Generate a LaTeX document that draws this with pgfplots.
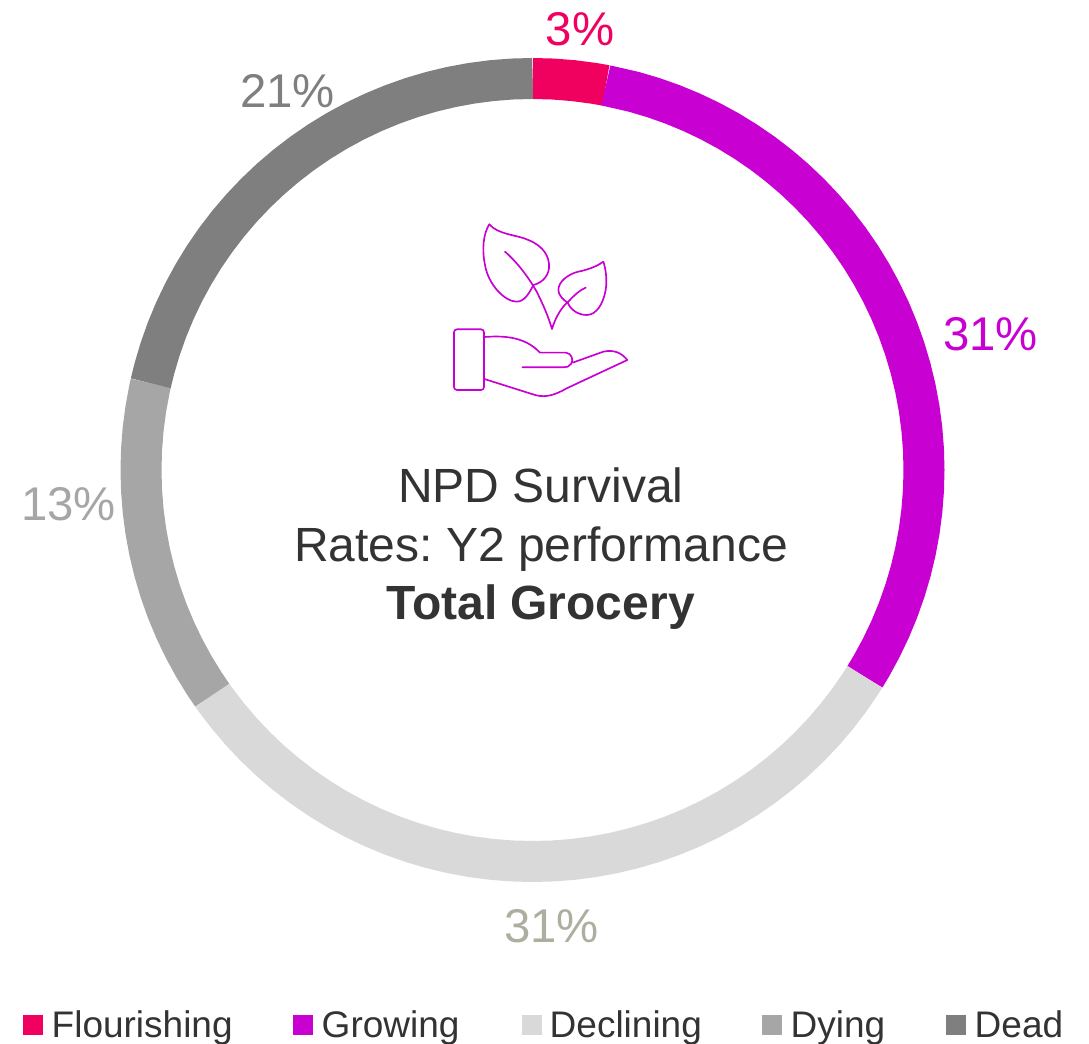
\documentclass[border=0pt]{standalone}
\usepackage{pgfplots}
\pgfplotsset{compat=1.18}
\usepackage{fontspec}
\setmainfont{Liberation Sans}
\frenchspacing
\definecolor{flourishing}{HTML}{F0005F}
\definecolor{growing}{HTML}{C800D2}
\definecolor{declining}{HTML}{D9D9D9}
\definecolor{dying}{HTML}{A6A6A6}
\definecolor{dead}{HTML}{7F7F7F}
\definecolor{ink}{HTML}{333333}
\definecolor{bottomlabel}{HTML}{AEAEA0}
\newcommand{\pct}{\fontsize{35.5}{36}\selectfont}
\newcommand{\centretext}{\fontsize{36}{40}\selectfont}
\newcommand{\legendtext}{\fontsize{27.75}{30}\selectfont}
\begin{document}
\begin{tikzpicture}
\path[use as bounding box,clip] (0,0) rectangle (816.75pt,782.25pt);
\begin{axis}[
  at={(0,0)}, anchor=south west,
  x=0.75pt, y=0.75pt,
  xmin=-532.5, xmax=556.5, ymin=-573, ymax=470,
  hide axis, clip=false,
  ring/.style={data cs=polar, no marks, line width=30.75pt, line cap=butt, line join=round},
  key/.style={only marks, mark=square*, mark size=7.1pt, mark options={draw=none}},
  every node/.append style={inner sep=0pt, outer sep=0pt},
]
% Ring segments: (polar angle in degrees, mid radius), running clockwise from the top.
% Shares: Flourishing 3.0, Growing 30.85, Declining 31.4, Dying 13.3, Dead 21.45 percent.
\addplot[ring, color=flourishing] coordinates {(90,391.5)(87,391.5)(84,391.5)(81,391.5)(79.2,391.5)};
\addplot[ring, color=growing] coordinates {(79.2,391.5)(75,391.5)(72,391.5)(69,391.5)(66,391.5)(63,391.5)(60,391.5)(57,391.5)(54,391.5)(51,391.5)(48,391.5)(45,391.5)(42,391.5)(39,391.5)(36,391.5)(33,391.5)(30,391.5)(27,391.5)(24,391.5)(21,391.5)(18,391.5)(15,391.5)(12,391.5)(9,391.5)(6,391.5)(3,391.5)(0,391.5)(-3,391.5)(-6,391.5)(-9,391.5)(-12,391.5)(-15,391.5)(-18,391.5)(-21,391.5)(-24,391.5)(-27,391.5)(-30,391.5)(-31.9,391.5)};
\addplot[ring, color=declining] coordinates {(-31.9,391.5)(-33,391.5)(-36,391.5)(-39,391.5)(-42,391.5)(-45,391.5)(-48,391.5)(-51,391.5)(-54,391.5)(-57,391.5)(-60,391.5)(-63,391.5)(-66,391.5)(-69,391.5)(-72,391.5)(-75,391.5)(-78,391.5)(-81,391.5)(-84,391.5)(-87,391.5)(-90,391.5)(-93,391.5)(-96,391.5)(-99,391.5)(-102,391.5)(-105,391.5)(-108,391.5)(-111,391.5)(-114,391.5)(-117,391.5)(-120,391.5)(-123,391.5)(-126,391.5)(-129,391.5)(-132,391.5)(-135,391.5)(-138,391.5)(-141,391.5)(-144,391.5)(-144.9,391.5)};
\addplot[ring, color=dying] coordinates {(-144.9,391.5)(-147,391.5)(-150,391.5)(-153,391.5)(-156,391.5)(-159,391.5)(-162,391.5)(-165,391.5)(-168,391.5)(-171,391.5)(-174,391.5)(-177,391.5)(-180,391.5)(-183,391.5)(-186,391.5)(-189,391.5)(-192,391.5)(-192.8,391.5)};
\addplot[ring, color=dead] coordinates {(-192.8,391.5)(-195,391.5)(-198,391.5)(-201,391.5)(-204,391.5)(-207,391.5)(-210,391.5)(-213,391.5)(-216,391.5)(-219,391.5)(-222,391.5)(-225,391.5)(-228,391.5)(-231,391.5)(-234,391.5)(-237,391.5)(-240,391.5)(-243,391.5)(-246,391.5)(-249,391.5)(-252,391.5)(-255,391.5)(-258,391.5)(-261,391.5)(-264,391.5)(-267,391.5)(-270,391.5)};

% Value labels
\node[anchor=base, text=flourishing] at (axis cs:47.5,424) {\pct 3\%};
\node[anchor=base, text=growing] at (axis cs:458,119) {\pct 31\%};
\node[anchor=base, text=bottomlabel] at (axis cs:19,-472) {\pct 31\%};
\node[anchor=base, text=dying] at (axis cs:-464,-51) {\pct 13\%};
\node[anchor=base, text=dead] at (axis cs:-245,362) {\pct 21\%};

% Centre caption
\node[anchor=base, text=ink] at (axis cs:8.5,-33) {\centretext NPD Survival};
\node[anchor=base, text=ink] at (axis cs:8.5,-92) {\centretext Rates: Y2 performance};
\node[anchor=base, text=ink] at (axis cs:8,-150) {\centretext\bfseries Total Grocery};

% Legend
\addplot[key, color=flourishing] coordinates {(-500,-554.5)};
\addplot[key, color=growing] coordinates {(-229.5,-554.5)};
\addplot[key, color=declining] coordinates {(-1,-554.5)};
\addplot[key, color=dying] coordinates {(239,-554.5)};
\addplot[key, color=dead] coordinates {(423,-554.5)};
\node[anchor=base west, text=ink] at (axis cs:-485.5,-567) {\legendtext Flourishing};
\node[anchor=base west, text=ink] at (axis cs:-215.5,-567) {\legendtext Growing};
\node[anchor=base west, text=ink] at (axis cs:12.5,-567) {\legendtext Declining};
\node[anchor=base west, text=ink] at (axis cs:253.5,-567) {\legendtext Dying};
\node[anchor=base west, text=ink] at (axis cs:437.5,-567) {\legendtext Dead};
\end{axis}

% Plant and hand icon
\begin{scope}[shift={(330pt,624.75pt)}, x=0.25pt, y=-0.25pt, draw=growing, line width=1.25pt, line cap=round, line join=round]
  % large leaf
  \draw (148,43) .. controls (175,75) and (235,75) .. (265,90)
        .. controls (310,108) and (330,140) .. (327,175)
        .. controls (323,205) and (300,220) .. (280,225);
  \draw (148,43) .. controls (130,70) and (125,120) .. (135,165)
        .. controls (145,225) and (195,275) .. (230,275)
        .. controls (255,275) and (270,245) .. (280,225);
  % stems
  \draw (195,125) .. controls (240,165) and (270,210) .. (290,245)
        .. controls (310,285) and (325,320) .. (336,357)
        .. controls (345,325) and (365,290) .. (385,275)
        .. controls (400,258) and (420,240) .. (437,233);
  % small leaf
  \draw (490,155) .. controls (470,170) and (440,180) .. (415,185)
        .. controls (385,192) and (355,215) .. (355,240)
        .. controls (355,255) and (370,270) .. (383,278)
        .. controls (390,295) and (410,315) .. (440,315)
        .. controls (470,315) and (490,280) .. (497,240)
        .. controls (502,210) and (497,175) .. (490,155);
  % cuff
  \draw[rounded corners=2.2pt] (42,358) rectangle (132,540);
  % hand
  \draw (133,381) .. controls (180,378) and (250,375) .. (300,428)
        -- (378,428) .. controls (395,430) and (402,450) .. (393,462)
        .. controls (388,470) and (380,472) .. (370,472) -- (247,472);
  \draw (398,458) -- (490,425) .. controls (525,418) and (545,430) .. (562,450)
        -- (380,535) .. controls (350,552) and (320,565) .. (285,555) -- (133,507);
\end{scope}
\end{tikzpicture}
\end{document}
